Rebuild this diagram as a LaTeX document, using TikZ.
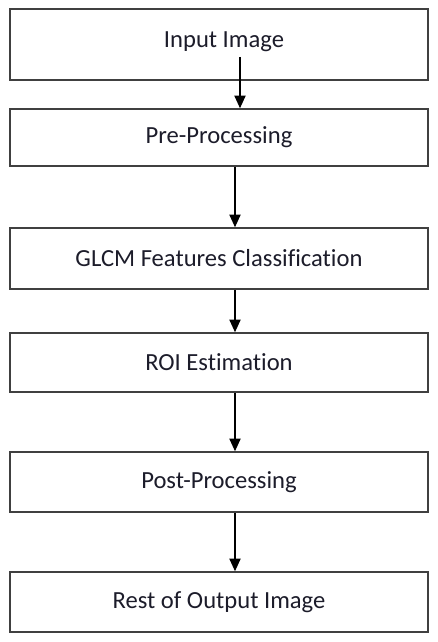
\documentclass[tikz,border=0pt]{standalone}
\usepackage{fontspec}
\setmainfont{Carlito}[Ligatures=NoCommon]
\usetikzlibrary{arrows.meta}

\definecolor{boxline}{HTML}{404040}
\definecolor{textcol}{HTML}{1C1C2A}

\begin{document}
\begin{tikzpicture}[
        stagebox/.style={draw=boxline, line width=1.1pt, minimum width=10.45cm, inner sep=0pt,
            text=textcol, font=\fontsize{17.5}{20}\selectfont},
        flow/.style={line width=0.9pt, -{Triangle[width=8pt,length=9pt]}}
    ]
        \useasboundingbox (0, 0) rectangle (10.95, -16.05);

        % Stages
        \node[stagebox, minimum height=1.775cm] (input) at (5.475, -1.1125) {};
        \node[textcol, font=\fontsize{17.5}{20}\selectfont] (inputtext) at (5.6, -1.05) {Input Image};
        \node[stagebox, minimum height=1.425cm] (pre) at (5.475, -3.4375) {Pre-Processing};
        \node[stagebox, minimum height=1.525cm] (glcm) at (5.475, -6.4625) {GLCM Features Classification};
        \node[stagebox, minimum height=1.475cm] (roi) at (5.475, -9.0625) {ROI Estimation};
        \node[stagebox, minimum height=1.5cm] (post) at (5.475, -12.05) {Post-Processing};
        \node[stagebox, minimum height=1.5cm] (rest) at (5.475, -15.05) {Rest of Output Image};

        % Arrows
        \coordinate (start) at ([xshift=0.4cm]inputtext.south);
        \draw[flow] (start) -- (start |- pre.north);
        \draw[flow] ([xshift=0.4cm]pre.south) -- ([xshift=0.4cm]glcm.north);
        \draw[flow] ([xshift=0.4cm]glcm.south) -- ([xshift=0.4cm]roi.north);
        \draw[flow] ([xshift=0.4cm]roi.south) -- ([xshift=0.4cm]post.north);
        \draw[flow] ([xshift=0.4cm]post.south) -- ([xshift=0.4cm]rest.north);
    \end{tikzpicture}
\end{document}
